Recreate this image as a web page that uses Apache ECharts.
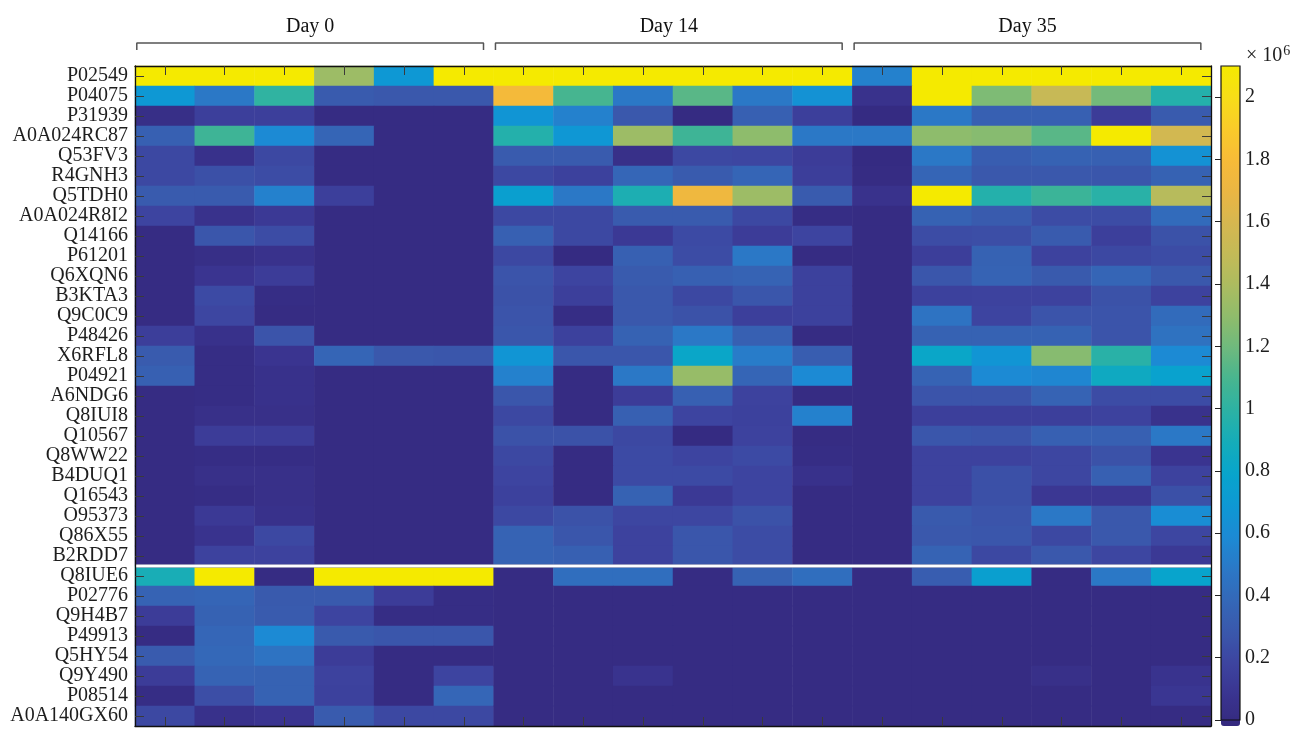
<!DOCTYPE html>
<html>
<head>
<meta charset="utf-8">
<title>Protein intensity heatmap</title>
<script src="https://cdn.jsdelivr.net/npm/echarts@6/dist/echarts.min.js"></script>
<style>
    html, body { margin: 0; padding: 0; background: #fff; }
    #main { width: 1293px; height: 730px; }
</style>
</head>
<body>
<div id="main"></div>
<script>
(function () {
    'use strict';

    // row labels (top to bottom)
    var proteins = [
        'P02549', 'P04075', 'P31939', 'A0A024RC87', 'Q53FV3', 'R4GNH3', 'Q5TDH0',
        'A0A024R8I2', 'Q14166', 'P61201', 'Q6XQN6', 'B3KTA3', 'Q9C0C9', 'P48426',
        'X6RFL8', 'P04921', 'A6NDG6', 'Q8IUI8', 'Q10567', 'Q8WW22', 'B4DUQ1',
        'Q16543', 'O95373', 'Q86X55', 'B2RDD7', 'Q8IUE6', 'P02776', 'Q9H4B7',
        'P49913', 'Q5HY54', 'Q9Y490', 'P08514', 'A0A140GX60'
    ];
    var days = ['Day 0', 'Day 14', 'Day 35'];
    var samplesPerDay = 6;
    var separatorBefore = 'Q8IUE6';

    // intensity in units of 10^6, one row per protein, 6 samples per time point
    var day0 = [
        [2.1, 2.1, 2.1, 1.35, 0.7, 2.1],
        [0.7, 0.5, 1.02, 0.32, 0.3, 0.3],
        [0.05, 0.17, 0.17, 0.03, 0.03, 0.03],
        [0.35, 1.07, 0.6, 0.38, 0.03, 0.03],
        [0.22, 0.07, 0.22, 0.03, 0.03, 0.03],
        [0.22, 0.26, 0.24, 0.03, 0.03, 0.03],
        [0.32, 0.32, 0.55, 0.17, 0.03, 0.03],
        [0.2, 0.08, 0.13, 0.03, 0.03, 0.03],
        [0.03, 0.29, 0.24, 0.03, 0.03, 0.03],
        [0.03, 0.05, 0.08, 0.03, 0.03, 0.03],
        [0.03, 0.1, 0.15, 0.03, 0.03, 0.03],
        [0.03, 0.23, 0.04, 0.03, 0.03, 0.03],
        [0.03, 0.21, 0.03, 0.03, 0.03, 0.03],
        [0.16, 0.07, 0.28, 0.03, 0.03, 0.03],
        [0.32, 0.04, 0.1, 0.38, 0.3, 0.29],
        [0.35, 0.04, 0.07, 0.03, 0.03, 0.03],
        [0.03, 0.04, 0.07, 0.03, 0.03, 0.03],
        [0.03, 0.06, 0.06, 0.03, 0.03, 0.03],
        [0.03, 0.15, 0.15, 0.03, 0.03, 0.03],
        [0.03, 0.04, 0.04, 0.03, 0.03, 0.03],
        [0.03, 0.06, 0.06, 0.03, 0.03, 0.03],
        [0.03, 0.04, 0.06, 0.03, 0.03, 0.03],
        [0.03, 0.13, 0.07, 0.03, 0.03, 0.03],
        [0.03, 0.09, 0.22, 0.03, 0.03, 0.03],
        [0.03, 0.19, 0.19, 0.03, 0.03, 0.03],
        [0.92, 2.1, 0.03, 2.1, 2.1, 2.1],
        [0.37, 0.38, 0.31, 0.31, 0.15, 0.04],
        [0.15, 0.36, 0.32, 0.2, 0.04, 0.04],
        [0.03, 0.39, 0.6, 0.31, 0.29, 0.29],
        [0.32, 0.4, 0.47, 0.15, 0.03, 0.03],
        [0.15, 0.37, 0.36, 0.19, 0.03, 0.2],
        [0.04, 0.25, 0.36, 0.18, 0.03, 0.39],
        [0.22, 0.07, 0.1, 0.32, 0.22, 0.22]
    ];
    var day14 = [
        [2.1, 2.1, 2.1, 2.1, 2.1, 2.1],
        [1.78, 1.1, 0.5, 1.15, 0.5, 0.66],
        [0.68, 0.55, 0.3, 0.02, 0.35, 0.17],
        [0.97, 0.69, 1.35, 1.07, 1.3, 0.5],
        [0.32, 0.32, 0.06, 0.22, 0.21, 0.15],
        [0.22, 0.18, 0.39, 0.32, 0.38, 0.16],
        [0.76, 0.5, 0.94, 1.74, 1.35, 0.32],
        [0.22, 0.22, 0.32, 0.32, 0.22, 0.04],
        [0.35, 0.22, 0.13, 0.23, 0.15, 0.2],
        [0.22, 0.02, 0.35, 0.24, 0.5, 0.03],
        [0.28, 0.2, 0.32, 0.35, 0.37, 0.18],
        [0.27, 0.17, 0.3, 0.22, 0.29, 0.18],
        [0.28, 0.04, 0.3, 0.27, 0.17, 0.18],
        [0.29, 0.18, 0.36, 0.5, 0.35, 0.03],
        [0.68, 0.29, 0.29, 0.82, 0.52, 0.33],
        [0.55, 0.03, 0.5, 1.33, 0.38, 0.6],
        [0.29, 0.03, 0.15, 0.35, 0.19, 0.03],
        [0.22, 0.03, 0.35, 0.2, 0.18, 0.55],
        [0.27, 0.27, 0.22, 0.02, 0.19, 0.03],
        [0.22, 0.03, 0.23, 0.2, 0.23, 0.04],
        [0.2, 0.03, 0.23, 0.23, 0.2, 0.07],
        [0.18, 0.03, 0.36, 0.13, 0.2, 0.03],
        [0.22, 0.27, 0.21, 0.21, 0.27, 0.03],
        [0.37, 0.29, 0.19, 0.29, 0.24, 0.03],
        [0.37, 0.35, 0.19, 0.29, 0.24, 0.03],
        [0.03, 0.44, 0.44, 0.03, 0.36, 0.44],
        [0.03, 0.03, 0.03, 0.03, 0.03, 0.03],
        [0.03, 0.03, 0.03, 0.03, 0.03, 0.03],
        [0.03, 0.03, 0.03, 0.03, 0.03, 0.03],
        [0.03, 0.03, 0.03, 0.03, 0.03, 0.03],
        [0.03, 0.03, 0.09, 0.03, 0.03, 0.03],
        [0.03, 0.03, 0.03, 0.03, 0.03, 0.03],
        [0.03, 0.03, 0.03, 0.03, 0.03, 0.03]
    ];
    var day35 = [
        [0.55, 2.1, 2.1, 2.1, 2.1, 2.1],
        [0.08, 2.1, 1.25, 1.52, 1.22, 0.97],
        [0.02, 0.5, 0.35, 0.35, 0.15, 0.32],
        [0.5, 1.3, 1.28, 1.15, 2.1, 1.58],
        [0.02, 0.5, 0.33, 0.36, 0.35, 0.66],
        [0.03, 0.38, 0.3, 0.3, 0.29, 0.36],
        [0.08, 2.1, 0.97, 1.06, 0.99, 1.45],
        [0.03, 0.36, 0.32, 0.24, 0.24, 0.42],
        [0.03, 0.24, 0.25, 0.32, 0.17, 0.27],
        [0.03, 0.16, 0.36, 0.19, 0.22, 0.24],
        [0.03, 0.29, 0.37, 0.31, 0.38, 0.3],
        [0.03, 0.18, 0.19, 0.19, 0.27, 0.19],
        [0.03, 0.47, 0.2, 0.28, 0.28, 0.42],
        [0.03, 0.36, 0.36, 0.36, 0.28, 0.46],
        [0.03, 0.82, 0.68, 1.28, 0.99, 0.6],
        [0.03, 0.37, 0.6, 0.58, 0.86, 0.78],
        [0.03, 0.28, 0.28, 0.37, 0.24, 0.24],
        [0.03, 0.17, 0.17, 0.17, 0.19, 0.08],
        [0.03, 0.29, 0.28, 0.35, 0.35, 0.5],
        [0.03, 0.19, 0.19, 0.21, 0.27, 0.1],
        [0.03, 0.19, 0.26, 0.21, 0.35, 0.19],
        [0.03, 0.19, 0.26, 0.12, 0.12, 0.26],
        [0.03, 0.31, 0.28, 0.5, 0.3, 0.62],
        [0.03, 0.3, 0.29, 0.22, 0.3, 0.21],
        [0.03, 0.37, 0.22, 0.3, 0.21, 0.13],
        [0.03, 0.33, 0.76, 0.03, 0.5, 0.8],
        [0.03, 0.03, 0.03, 0.03, 0.03, 0.03],
        [0.03, 0.03, 0.03, 0.03, 0.03, 0.03],
        [0.03, 0.03, 0.03, 0.03, 0.03, 0.03],
        [0.03, 0.03, 0.03, 0.03, 0.03, 0.03],
        [0.03, 0.03, 0.03, 0.06, 0.03, 0.09],
        [0.03, 0.03, 0.03, 0.03, 0.03, 0.11],
        [0.03, 0.03, 0.03, 0.03, 0.03, 0.03]
    ];

    var colorMax = 2.1;
    // parula-like colormap, evenly spaced over [0, colorMax]
    var parula = [
        '#34297E', '#3A3490', '#3D44A0', '#3A58AC', '#3468B8', '#2B78C6',
        '#1C8AD4', '#0E98D4', '#08A4CC', '#14ACBA', '#2BB2A5', '#46B590',
        '#6DB97E', '#8EBC6C', '#ABBC60', '#C3BA57', '#D6B750', '#EAB643',
        '#F7BB38', '#F9CB2A', '#F7DD18', '#F5EA00'
    ];

    var FONT = '"Liberation Serif", "DejaVu Serif", serif';
    var TXT = '#1e1e1e';
    var GRID = { left: 135, top: 66, width: 1076, height: 660 };

    var samples = [];
    days.forEach(function (d) {
        for (var j = 1; j <= samplesPerDay; j++) samples.push(d + ' #' + j);
    });

    var cells = [];
    [day0, day14, day35].forEach(function (block, d) {
        block.forEach(function (row, i) {
            row.forEach(function (v, j) {
                cells.push([d * samplesPerDay + j, i, v]);
            });
        });
    });

    var sepRow = proteins.indexOf(separatorBefore);
    var nCols = samples.length;
    var nRows = proteins.length;

    function catAxis(pos, data, showLabel) {
        return {
            type: 'category', gridIndex: 0, position: pos, data: data, z: 10,
            inverse: pos === 'left' || pos === 'right',
            axisLine: { show: true, lineStyle: { color: '#111', width: 1.3 } },
            axisTick: { show: true, inside: true, length: 9, alignWithLabel: true, interval: 0,
                lineStyle: { color: '#3a3a3a', width: 1 } },
            axisLabel: showLabel
                ? { show: true, interval: 0, margin: 7, fontFamily: FONT, fontSize: 20, color: TXT }
                : { show: false },
            splitLine: { show: false }
        };
    }

    var series = [{
        type: 'heatmap',
        xAxisIndex: 0, yAxisIndex: 0,
        data: cells,
        itemStyle: { borderWidth: 0 },
        emphasis: { disabled: true },
        silent: true
    }, {
        // separator between the two protein groups
        type: 'line', xAxisIndex: 2, yAxisIndex: 2, symbol: 'none', silent: true, z: 5,
        lineStyle: { color: '#b8b8c8', width: 3.4 },
        data: [[0, sepRow], [nCols, sepRow]]
    }, {
        type: 'line', xAxisIndex: 2, yAxisIndex: 2, symbol: 'none', silent: true, z: 6,
        lineStyle: { color: '#ffffff', width: 2 },
        data: [[0, sepRow], [nCols, sepRow]]
    }];

    // group brackets above the plot
    days.forEach(function (name, d) {
        var a = d * samplesPerDay + 0.03;
        var b = (d + 1) * samplesPerDay - 0.17;
        series.push({
            type: 'line', xAxisIndex: 2, yAxisIndex: 2, symbol: 'none', silent: true, clip: false,
            lineStyle: { color: '#555', width: 1.5 },
            data: [[a, -0.8], [a, -1.15], [b, -1.15], [b, -0.8]]
        });
    });
    series.push({
        type: 'scatter', xAxisIndex: 2, yAxisIndex: 2, symbolSize: 1, silent: true, clip: false,
        itemStyle: { color: '#ffffff', opacity: 1 },
        label: { show: true, position: 'inside', formatter: '{b}', opacity: 1,
            fontFamily: FONT, fontSize: 20, color: '#111', textBorderWidth: 0 },
        data: days.map(function (name, d) {
            return { name: name, value: [d * samplesPerDay + 2.93, -1.95] };
        })
    });

    var chart = echarts.init(document.getElementById('main'), null, { renderer: 'canvas' });

    chart.setOption({
        animation: false,
        backgroundColor: '#fff',
        grid: [
            { left: GRID.left, top: GRID.top, width: GRID.width, height: GRID.height },
            { left: GRID.left, top: GRID.top, width: GRID.width, height: GRID.height },
            { left: 1221, top: GRID.top, width: 19, height: GRID.height,
                show: true, z: 10, borderColor: '#111', borderWidth: 1.2, backgroundColor: 'transparent' }
        ],
        xAxis: [
            catAxis('bottom', samples, false),
            catAxis('top', samples, false),
            { type: 'value', gridIndex: 1, min: 0, max: nCols, show: false },
            { type: 'value', gridIndex: 2, min: 0, max: 1, show: false }
        ],
        yAxis: [
            catAxis('left', proteins, true),
            catAxis('right', proteins, false),
            { type: 'value', gridIndex: 1, min: 0, max: nRows, inverse: true, show: false },
            {
                type: 'value', gridIndex: 2, position: 'right', min: 0, max: colorMax, interval: 0.2, z: 11,
                axisLine: { show: false },
                axisTick: { show: true, inside: true, length: 6, lineStyle: { color: '#222', width: 1 } },
                axisLabel: { show: true, margin: 5, showMaxLabel: false, fontFamily: FONT, fontSize: 20, color: TXT,
                    formatter: function (v) { return String(+v.toFixed(1)); } },
                splitLine: { show: false }
            }
        ],
        visualMap: {
            type: 'continuous',
            seriesIndex: 0,
            min: 0,
            max: colorMax,
            calculable: false,
            hoverLink: false,
            left: 1221,
            top: GRID.top,
            itemWidth: 19,
            itemHeight: GRID.height,
            padding: 0,
            text: null,
            inRange: { color: parula }
        },
        graphic: [{
            type: 'text',
            left: 1246,
            top: 44,
            silent: true,
            style: {
                text: '{a|× 10}{b|6}',
                rich: {
                    a: { fontFamily: FONT, fontSize: 20, fill: TXT, verticalAlign: 'bottom' },
                    b: { fontFamily: FONT, fontSize: 14, fill: TXT, verticalAlign: 'top', padding: [0, 0, 8, 1] }
                }
            }
        }],
        series: series
    });

    window.addEventListener('resize', function () { chart.resize(); });
})();
</script>
</body>
</html>
